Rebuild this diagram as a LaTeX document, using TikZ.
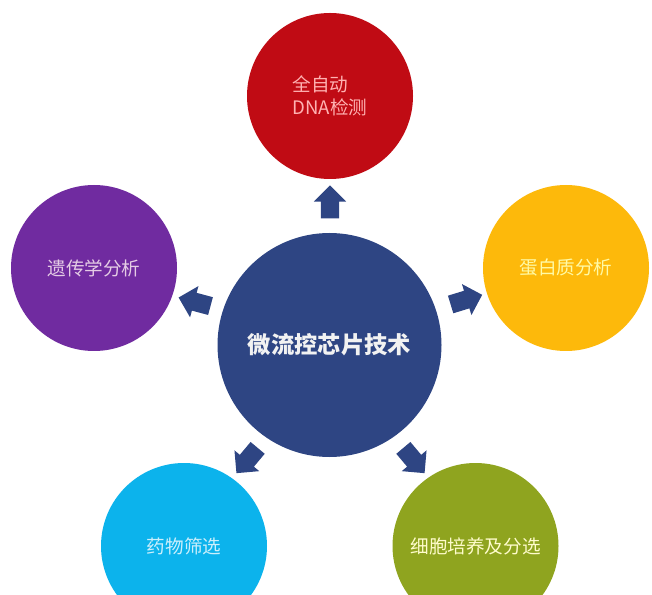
\documentclass[tikz,border=0pt]{standalone}
\usepackage{fontspec}
\setmainfont{Noto Sans CJK SC}
\usepackage[dvipsnames]{xcolor}
\usetikzlibrary{shapes.arrows}
\definecolor{chipblue}{HTML}{2E4583}
\definecolor{dnared}{HTML}{C00B14}
\definecolor{genepurple}{HTML}{702BA0}
\definecolor{proteinyellow}{HTML}{FDB90B}
\definecolor{drugcyan}{HTML}{0CB3EC}
\definecolor{cellgreen}{HTML}{8FA41F}
\newcommand{\lowtext}[1]{\raisebox{-2pt}{#1}}
\tikzset{
    topic/.style={circle, minimum size=166pt, inner sep=0pt, font=\fontsize{18.6}{22.5}\selectfont},
    blockarrow/.style={single arrow, fill=chipblue, minimum width=32pt, minimum height=33pt, text height=18pt, text depth=0pt, single arrow head extend=7pt, single arrow head indent=0pt, inner sep=0pt},
}
\begin{document}
\begin{tikzpicture}[x=1pt, y=1pt]
            \useasboundingbox (0,0) rectangle (652,594);
            \node[circle, minimum size=224pt, inner sep=0pt, fill=chipblue, text=black!5!white, font=\fontsize{23.3}{27}\selectfont\bfseries] (chip) at (329.5,249) {微流控芯片技术};
            \node[topic, fill=dnared, text=red!30!white, align=left] (dna) at (330,498) {全自动\\DNA检测};
            \node[topic, fill=genepurple, text=violet!20!white] (gene) at (94,326) {\lowtext{遗传学分析}};
            \node[topic, fill=proteinyellow, text=yellow!35!white] (protein) at (566,326) {\lowtext{蛋白质分析}};
            \node[topic, fill=drugcyan, text=cyan!20!white] (drug) at (184,48) {\lowtext{药物筛选}};
            \node[topic, fill=cellgreen, text=yellow!20!white] (cell) at (475.5,48) {\lowtext{细胞培养及分选}};
            \node[blockarrow, rotate=90] (toDna) at (330,387.5) {};
            \node[blockarrow, rotate=17] (toProtein) at (462,293) {};
            \node[blockarrow, rotate=165] (toGene) at (199,291) {};
            \node[blockarrow, rotate=-130] (toDrug) at (250,137) {};
            \node[blockarrow, rotate=-50] (toCell) at (411,137) {};
        \end{tikzpicture}
\end{document}
